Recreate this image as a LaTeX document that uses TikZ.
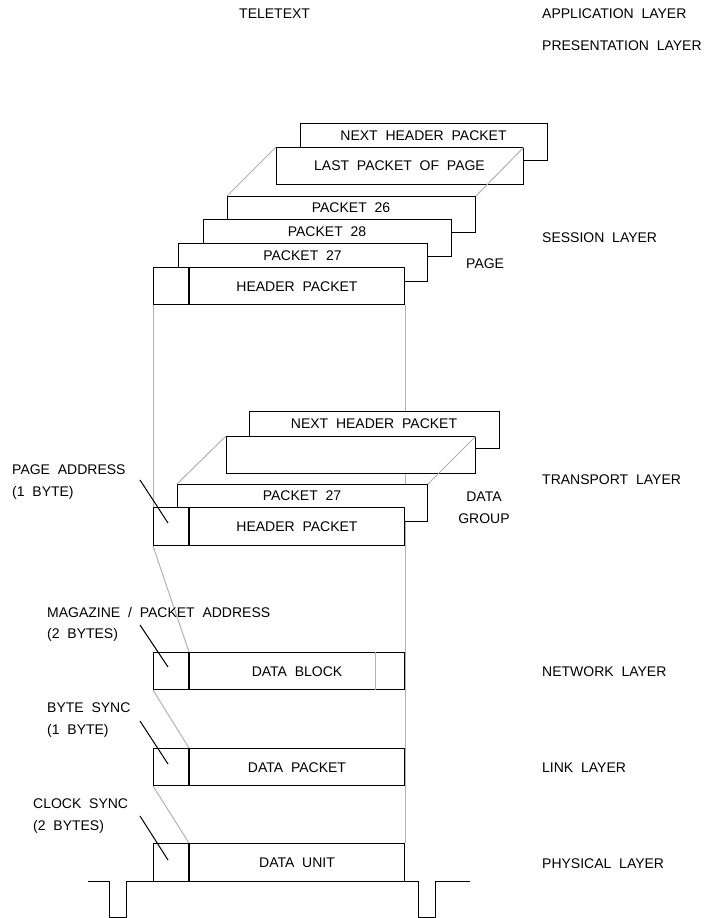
\documentclass[tikz,border=0pt]{standalone}
\usepackage{fontspec}
\setmainfont{Liberation Sans}[WordSpace=2]
\usetikzlibrary{backgrounds}
\begin{document}
\begin{tikzpicture}[x=1pt,y=-1pt,
  box/.style={draw, line width=1pt, fill=white, inner sep=0pt, anchor=north west,
    minimum height=37pt, text height=10pt, text depth=0pt, font=\fontsize{14}{17}\selectfont},
  txt/.style={inner sep=0pt, text height=10pt, text depth=0pt, font=\fontsize{14}{17}\selectfont},
  lbl/.style={inner sep=0pt, align=left, anchor=north west, font=\fontsize{14}{21.5}\selectfont},
  guide/.style={draw=black!30, line width=1pt},
  lead/.style={draw, line width=1pt}]
\useasboundingbox (0,0) rectangle (710,918);

% ---------- top stack (page) ----------
\node[box, minimum width=247pt] (tnext) at (300,123) {};
\node[box, minimum width=247pt] (tlast) at (276,147) {};
\node[box, minimum width=248pt, minimum height=36pt] (t26) at (227,196) {};
\node[box, minimum width=248pt] (t28) at (203,219) {};
\node[box, minimum width=249pt, minimum height=38pt] (t27) at (178,243) {};
\node[box, minimum width=35pt] (tha) at (153,267) {};
\node[box, minimum width=215pt] (thb) at (tha.north east) {HEADER PACKET};

\node[txt] (tnextt) at (423.5,135) {NEXT HEADER PACKET};
\node[txt] (tlastt) at (399.5,165.5) {LAST PACKET OF PAGE};
\node[txt] (t26t) at (351,207.5) {PACKET 26};
\node[txt] (t28t) at (327,231) {PACKET 28};
\node[txt] (t27t) at (302.5,255) {PACKET 27};

% ---------- middle stack (data group) ----------
\node[box, minimum width=250pt] (mnext) at (249,411) {};
\node[box, minimum width=249pt] (mblank) at (226,436) {};
\node[box, minimum width=250pt] (m27) at (177,484) {};
\node[box, minimum width=35pt, minimum height=38pt] (mha) at (153,507) {};
\node[box, minimum width=215pt, minimum height=38pt] (mhb) at (mha.north east) {HEADER PACKET};

\node[txt] (mnextt) at (374,423.5) {NEXT HEADER PACKET};
\node[txt] (m27t) at (302,495.5) {PACKET 27};

% ---------- lower layers ----------
\node[box, minimum width=35pt] (dba) at (153,652) {};
\node[box, minimum width=215pt] (dbb) at (dba.north east) {DATA BLOCK};
\node[box, minimum width=35pt] (dpa) at (153,748) {};
\node[box, minimum width=215pt] (dpb) at (dpa.north east) {DATA PACKET};
\node[box, minimum width=35pt, minimum height=38pt] (dua) at (153,843) {};
\node[box, minimum width=215pt, minimum height=38pt] (dub) at (dua.north east) {DATA UNIT};

% ---------- hidden guide lines (behind boxes) ----------
\begin{scope}[on background layer]
  \draw[guide] (tha.south west) -- (mha.north west);
  \draw[guide] (thb.south east) -- (dub.north east);
\end{scope}

% ---------- visible guide lines ----------
\draw[guide] (tlast.north west) -- (t26.north west);
\draw[guide] (tlast.north east) -- (t26.north east);
\draw[guide] (mblank.north west) -- (m27.north west);
\draw[guide] (mblank.north east) -- (m27.north east);
\draw[guide] (mha.south west) -- (dba.north east);
\draw[guide] (dba.south west) -- (dpa.north east);
\draw[guide] (dpa.south west) -- (dua.north east);
\draw[guide] ([xshift=-30pt]dbb.north east) -- ([xshift=-30pt]dbb.south east);

% ---------- physical signal ----------
\draw[line width=1pt] (88,881) -- (109,881) -- (109,917) -- (126,917) -- (126,881)
  -- (418,881) -- (418,917) -- (435,917) -- (435,881) -- (470,881);

% ---------- left labels and leaders ----------
\node[lbl] (lpage) at (12,465) {PAGE ADDRESS\\(1 BYTE)};
\node[lbl] (lmag) at (47,607) {MAGAZINE / PACKET ADDRESS\\(2 BYTES)};
\node[lbl] (lbyte) at (47,703) {BYTE SYNC\\(1 BYTE)};
\node[lbl] (lclock) at (33,799) {CLOCK SYNC\\(2 BYTES)};

\coordinate (pa1) at (140,480); \coordinate (pa2) at (168,523);
\coordinate (mg1) at (140,625); \coordinate (mg2) at (168,667);
\coordinate (bs1) at (140,721); \coordinate (bs2) at (168,764);
\coordinate (cs1) at (140,816); \coordinate (cs2) at (168,860);
\draw[lead] (pa1) -- (pa2);
\draw[lead] (mg1) -- (mg2);
\draw[lead] (bs1) -- (bs2);
\draw[lead] (cs1) -- (cs2);

% ---------- other labels ----------
\node[txt, anchor=west] (teletext) at (239,14) {TELETEXT};
\node[txt, anchor=west] (pagel) at (466,263) {PAGE};
\node[inner sep=0pt, align=center, anchor=north, font=\fontsize{14}{22}\selectfont] (dgroup) at (484,492) {DATA\\GROUP};

\node[txt, anchor=west] (app) at (542,14) {APPLICATION LAYER};
\node[txt, anchor=west] (pres) at (542,45) {PRESENTATION LAYER};
\node[txt, anchor=west] (sess) at (542,237) {SESSION LAYER};
\node[txt, anchor=west] (trans) at (542,479) {TRANSPORT LAYER};
\node[txt, anchor=west] (netw) at (542,671) {NETWORK LAYER};
\node[txt, anchor=west] (link) at (542,767) {LINK LAYER};
\node[txt, anchor=west] (phys) at (542,863) {PHYSICAL LAYER};
\end{tikzpicture}
\end{document}
